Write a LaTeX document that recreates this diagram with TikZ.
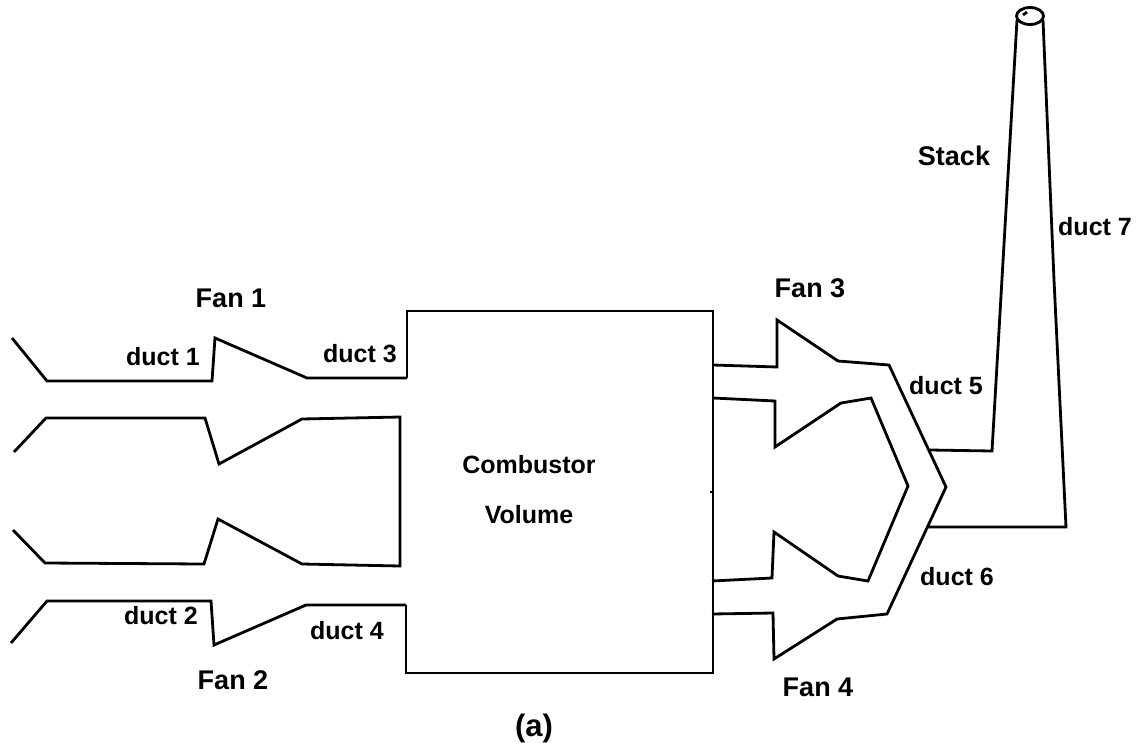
\documentclass[tikz,border=0pt]{standalone}
\usepackage{fontspec}
\setmainfont{Liberation Sans}
\tikzset{
  wall/.style={line width=2.8pt, line join=miter, black},
  lbl/.style={font=\fontsize{25}{28}\selectfont\bfseries, inner sep=0pt},
  biglbl/.style={font=\fontsize{27}{30}\selectfont\bfseries, inner sep=0pt},
  caplbl/.style={font=\fontsize{31}{34}\selectfont\bfseries, inner sep=0pt}
}
\begin{document}
\begin{tikzpicture}[x=1pt, y=-1pt]
    \useasboundingbox (0,0) rectangle (1138,747);

    % combustor volume
    \draw[wall] (407,378) -- (407,311) -- (713,311) -- (713,673) -- (406,673) -- (406,605);
    \draw[wall] (710,492) -- (713,492);

    % inlet ducts and fans 1, 2
    \draw[wall] (12,338) -- (47,381) -- (212,381) -- (215,338) -- (307,378) -- (407,378);
    \draw[wall] (14,452) -- (46,418) -- (205,418) -- (219,464) -- (302,419) -- (400,417)
        -- (400,566) -- (302,564) -- (218,519) -- (204,564) -- (45,563) -- (13,530);
    \draw[wall] (11,643) -- (47,601) -- (211,601) -- (214,645) -- (306,605) -- (406,605);

    % fans 3, 4 and outlet ducts
    \draw[wall] (713,365) -- (777,367) -- (777,320) -- (838,361) -- (889,365) -- (946,487)
        -- (887,614) -- (837,619) -- (774,659) -- (773,613) -- (712,614);
    \draw[wall] (713,398) -- (775,401) -- (775,447) -- (841,403) -- (871,398) -- (908,486)
        -- (868,581) -- (838,576) -- (774,532) -- (772,578) -- (712,581);

    % stack
    \draw[wall] (930,450) -- (992,451) -- (1017,20);
    \draw[wall] (1043,20) -- (1054,280) -- (1066,527) -- (927,527);
    \draw[wall] (1030,16) ellipse [x radius=13.5, y radius=8.5];
    \draw[wall] (1023,15) -- (1027,12);

    % labels
    \node[biglbl] (fanA) at (231,298) {Fan 1};
    \node[biglbl] (fanB) at (233,680) {Fan 2};
    \node[biglbl] (fanC) at (810,288) {Fan 3};
    \node[biglbl] (fanD) at (818,687) {Fan 4};
    \node[lbl] (ductA) at (163,357) {duct 1};
    \node[lbl] (ductB) at (161,616) {duct 2};
    \node[lbl] (ductC) at (360,354) {duct 3};
    \node[lbl] (ductD) at (347,631) {duct 4};
    \node[lbl] (ductE) at (946,386) {duct 5};
    \node[lbl] (ductF) at (957,577) {duct 6};
    \node[lbl] (ductG) at (1095,227) {duct 7};
    \node[biglbl] (stack) at (954,156) {Stack};
    \node[lbl] (comb) at (529,465) {Combustor};
    \node[lbl] (vol) at (529,515) {Volume};
    \node[caplbl] (cap) at (534,728) {(a)};
\end{tikzpicture}
\end{document}
